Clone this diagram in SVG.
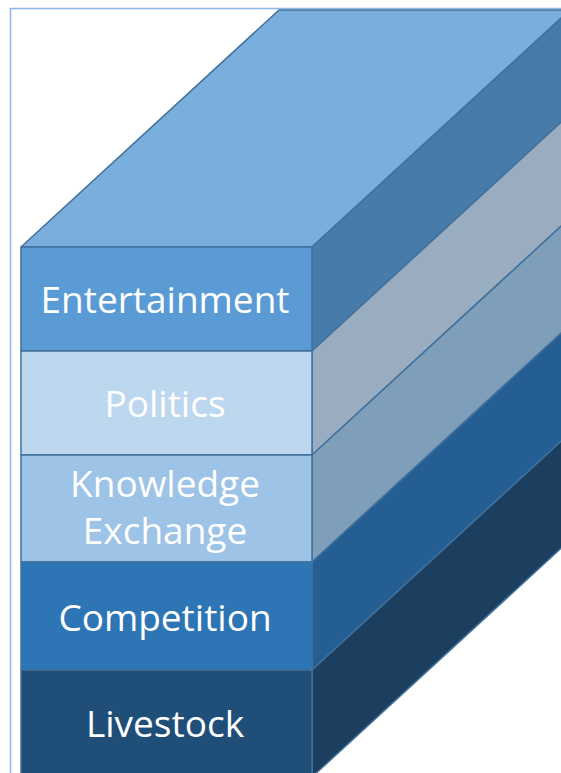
<svg xmlns="http://www.w3.org/2000/svg" width="561" height="773" viewBox="0 0 561 773">
  <style>
    .edge { stroke: #41719C; stroke-width: 1.5; stroke-linejoin: round; }
    .label { font-family: "Open Sans", "Noto Sans", sans-serif; font-size: 37px; fill: #FFFFFF; text-anchor: middle; }
  </style>
  <defs>
    <clipPath id="page"><rect x="0" y="0" width="561" height="773"/></clipPath>
  </defs>
  <rect x="0" y="0" width="561" height="773" fill="#FFFFFF"/>
  <!-- outer frame -->
  <path d="M10.5,773 V8.5 H561" fill="none" stroke="#8DB8E6" stroke-width="1.5"/>
  <g clip-path="url(#page)">
    <!-- top face -->
    <g id="top">
      <polygon class="edge" points="21,247 279,10 570,10 312,247" fill="#7AAEDC"/>
    </g>
    <g id="entertainment">
      <polygon class="edge" points="312,247 570,10 570,114 312,351" fill="#477CAA"/>
      <rect class="edge" x="21" y="247" width="291" height="104" fill="#5B9BD5"/>
      <text class="label" x="165" y="313">Entertainment</text>
    </g>
    <g id="politics">
      <polygon class="edge" points="312,351 570,114 570,218 312,455" fill="#9AADC0"/>
      <rect class="edge" x="21" y="351" width="291" height="104" fill="#BDD7EE"/>
      <text class="label" x="165" y="417">Politics</text>
    </g>
    <g id="knowledge-exchange">
      <polygon class="edge" points="312,455 570,218 570,325 312,562" fill="#7F9EBA"/>
      <rect class="edge" x="21" y="455" width="291" height="107" fill="#9DC3E6"/>
      <text class="label" x="165" y="497">Knowledge</text>
      <text class="label" x="165" y="544">Exchange</text>
    </g>
    <g id="competition">
      <polygon class="edge" points="312,562 570,325 570,433 312,670" fill="#245E93"/>
      <rect class="edge" x="21" y="562" width="291" height="108" fill="#2E75B6"/>
      <text class="label" x="165" y="631">Competition</text>
    </g>
    <g id="livestock">
      <polygon class="edge" points="312,670 570,433 570,540 312,777" fill="#1C3F60"/>
      <rect class="edge" x="21" y="670" width="291" height="107" fill="#1F4E79"/>
      <text class="label" x="165" y="737">Livestock</text>
    </g>
  </g>
</svg>
